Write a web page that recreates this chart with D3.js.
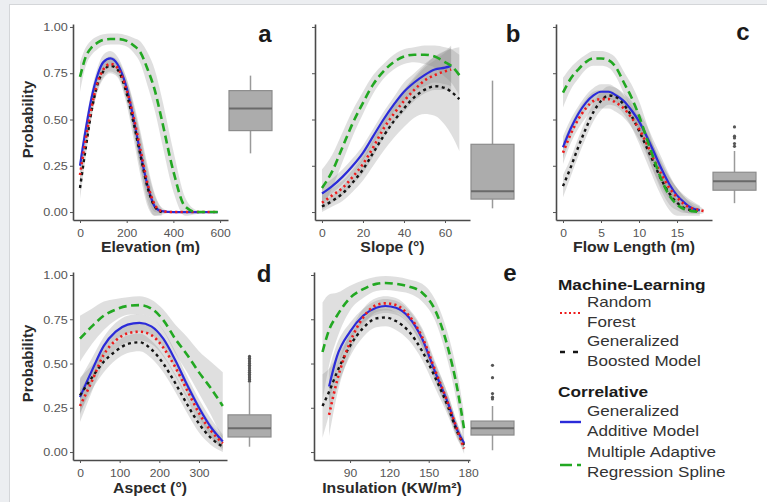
<!DOCTYPE html>
<html><head><meta charset="utf-8">
<script src="https://cdn.jsdelivr.net/npm/d3@7"></script>
<style>
html,body{margin:0;padding:0;background:#eceef1;}
svg{display:block;}
</style></head>
<body>
<svg id="chart" width="767" height="502"></svg>
<script>
// ---------------- DATA ----------------
const yTicks = [0, 0.25, 0.5, 0.75, 1];

// Panel a: Elevation (m)
const xTicksA = [0, 200, 400, 600];
const xsA     = [0, 25, 50, 75, 100, 130, 160, 200, 230, 260, 290, 320, 350, 400, 450, 500, 550, 590];
const marsA   = [0.73, 0.84, 0.89, 0.915, 0.93, 0.935, 0.935, 0.925, 0.90, 0.86, 0.77, 0.66, 0.50, 0.22, 0.03, 0, 0, 0];
const marsA_ci= [0.08, 0.05, 0.04, 0.035, 0.03, 0.03, 0.03, 0.03, 0.04, 0.06, 0.09, 0.11, 0.12, 0.11, 0.05, 0.01, 0, 0];
const gamA    = [0.25, 0.45, 0.62, 0.74, 0.81, 0.83, 0.80, 0.67, 0.50, 0.31, 0.14, 0.03, 0.005, 0, 0, 0, 0, 0];
const gamA_ci = [0.05, 0.04, 0.04, 0.04, 0.04, 0.04, 0.04, 0.05, 0.07, 0.08, 0.06, 0.03, 0.01, 0, 0, 0, 0, 0];
const rfA     = [0.20, 0.40, 0.57, 0.70, 0.77, 0.80, 0.78, 0.66, 0.51, 0.33, 0.15, 0.04, 0.005, 0, 0, 0, 0, 0];
const rfA_ci  = [0.06, 0.05, 0.04, 0.04, 0.04, 0.04, 0.04, 0.06, 0.08, 0.10, 0.10, 0.06, 0.02, 0, 0, 0, 0, 0];
const gbmA    = [0.13, 0.35, 0.55, 0.69, 0.76, 0.79, 0.77, 0.64, 0.48, 0.30, 0.13, 0.03, 0, null, null, null, null, null];
const gbmA_ci = [0.06, 0.05, 0.04, 0.04, 0.04, 0.04, 0.04, 0.06, 0.09, 0.11, 0.10, 0.06, 0.02, null, null, null, null, null];
const boxA = [0.317, 0.44, 0.56, 0.656, 0.737];
const outA = [];

// Panel b: Slope (°)
const xTicksB = [0, 20, 40, 60];
const xsB     = [0, 5, 10, 15, 20, 25, 30, 35, 40, 45, 50, 55, 60, 63, 67];
const marsB   = [0.13, 0.22, 0.35, 0.48, 0.59, 0.69, 0.76, 0.81, 0.84, 0.85, 0.85, 0.84, 0.81, 0.79, 0.74];
const marsB_ci= [0.10, 0.09, 0.08, 0.07, 0.06, 0.05, 0.04, 0.04, 0.04, 0.04, 0.05, 0.06, 0.08, 0.09, 0.11];
const gamB    = [0.10, 0.14, 0.19, 0.25, 0.32, 0.41, 0.50, 0.58, 0.65, 0.70, 0.74, 0.77, 0.78, 0.79, null];
const gamB_ci = [0.04, 0.04, 0.04, 0.04, 0.04, 0.04, 0.04, 0.04, 0.05, 0.05, 0.06, 0.07, 0.09, 0.11, null];
const rfB     = [0.05, 0.09, 0.13, 0.19, 0.26, 0.35, 0.45, 0.53, 0.60, 0.66, 0.71, 0.74, 0.76, 0.77, null];
const rfB_ci  = [0.04, 0.04, 0.04, 0.04, 0.05, 0.05, 0.05, 0.05, 0.06, 0.06, 0.07, 0.08, 0.10, 0.12, null];
const gbmB    = [0.03, 0.06, 0.10, 0.16, 0.23, 0.32, 0.41, 0.49, 0.56, 0.62, 0.66, 0.68, 0.67, 0.65, 0.61];
const gbmB_ci = [0.03, 0.03, 0.04, 0.05, 0.06, 0.07, 0.08, 0.09, 0.10, 0.11, 0.13, 0.16, 0.20, 0.23, 0.28];
const boxB = [0.02, 0.07, 0.113, 0.366, 0.71];
const outB = [];

// Panel c: Flow Length (m)
const xTicksC = [0, 5, 10, 15];
const xsC     = [0, 1, 2, 3, 4, 5, 6, 7, 8, 9, 10, 11, 12, 13, 14, 15, 16, 17, 18, 18.5];
const marsC   = [0.645, 0.72, 0.77, 0.81, 0.83, 0.83, 0.82, 0.78, 0.70, 0.62, 0.52, 0.40, 0.28, 0.17, 0.09, 0.04, 0.015, 0.005, 0, null];
const marsC_ci= [0.08, 0.06, 0.05, 0.04, 0.04, 0.04, 0.04, 0.05, 0.06, 0.07, 0.08, 0.08, 0.07, 0.06, 0.05, 0.03, 0.02, 0.01, 0, null];
const gamC    = [0.35, 0.45, 0.53, 0.59, 0.63, 0.65, 0.65, 0.63, 0.60, 0.55, 0.49, 0.41, 0.32, 0.23, 0.15, 0.09, 0.05, 0.02, 0.01, null];
const gamC_ci = [0.06, 0.05, 0.04, 0.04, 0.04, 0.04, 0.04, 0.04, 0.04, 0.05, 0.05, 0.06, 0.06, 0.06, 0.05, 0.04, 0.03, 0.02, 0.01, null];
const rfC     = [0.32, 0.42, 0.50, 0.56, 0.60, 0.61, 0.61, 0.59, 0.56, 0.51, 0.45, 0.37, 0.28, 0.20, 0.13, 0.08, 0.04, 0.02, 0.01, 0.005];
const rfC_ci  = [0.06, 0.05, 0.05, 0.05, 0.05, 0.05, 0.05, 0.05, 0.05, 0.05, 0.06, 0.06, 0.07, 0.07, 0.06, 0.05, 0.04, 0.03, 0.02, 0.01];
const gbmC    = [0.14, 0.24, 0.35, 0.45, 0.54, 0.60, 0.63, 0.62, 0.58, 0.52, 0.44, 0.35, 0.26, 0.17, 0.10, 0.05, 0.02, 0.01, 0.005, null];
const gbmC_ci = [0.06, 0.05, 0.05, 0.05, 0.05, 0.05, 0.05, 0.05, 0.05, 0.06, 0.07, 0.08, 0.09, 0.09, 0.09, 0.08, 0.07, 0.05, 0.03, null];
const boxC = [0.048, 0.118, 0.167, 0.215, 0.33];
const outC = [0.355, 0.37, 0.40, 0.41, 0.46];

// Panel d: Aspect (°)
const xTicksD = [0, 100, 200, 300];
const xsD     = [0, 30, 60, 90, 120, 150, 180, 210, 240, 270, 300, 330, 360];
const marsD   = [0.64, 0.71, 0.77, 0.805, 0.825, 0.83, 0.81, 0.745, 0.64, 0.55, 0.45, 0.36, 0.26];
const marsD_ci= [0.13, 0.10, 0.08, 0.06, 0.05, 0.05, 0.05, 0.06, 0.08, 0.10, 0.12, 0.15, 0.19];
const gamD    = [0.31, 0.46, 0.60, 0.68, 0.72, 0.73, 0.71, 0.64, 0.52, 0.38, 0.25, 0.14, 0.06];
const gamD_ci = [0.10, 0.07, 0.05, 0.05, 0.05, 0.05, 0.05, 0.05, 0.05, 0.05, 0.05, 0.05, 0.04];
const rfD     = [0.26, 0.40, 0.55, 0.63, 0.67, 0.68, 0.66, 0.59, 0.48, 0.35, 0.22, 0.12, 0.05];
const rfD_ci  = [0.09, 0.06, 0.05, 0.05, 0.05, 0.05, 0.05, 0.05, 0.05, 0.05, 0.05, 0.04, 0.04];
const gbmD    = [0.32, 0.42, 0.51, 0.57, 0.61, 0.62, 0.58, 0.50, 0.39, 0.27, 0.16, 0.08, 0.03];
const gbmD_ci = [0.10, 0.07, 0.06, 0.05, 0.05, 0.05, 0.05, 0.05, 0.05, 0.05, 0.05, 0.04, 0.03];
const boxD = [0.03, 0.085, 0.135, 0.21, 0.39];
const outD = [0.40, 0.41, 0.42, 0.43, 0.44, 0.45, 0.46, 0.47, 0.48, 0.49, 0.50, 0.51, 0.52, 0.53, 0.54];

// Panel e: Insulation (KW/m²)
const xTicksE = [90, 120, 150, 180];
const xsE     = [69, 74, 80, 90, 100, 110, 117, 125, 135, 145, 155, 165, 172, 177];
const marsE   = [0.565, 0.69, 0.77, 0.87, 0.92, 0.95, 0.955, 0.95, 0.935, 0.90, 0.80, 0.58, 0.35, 0.13];
const marsE_ci= [0.28, 0.20, 0.13, 0.07, 0.05, 0.04, 0.04, 0.04, 0.04, 0.05, 0.06, 0.08, 0.09, 0.09];
const gamE    = [null, 0.37, 0.54, 0.68, 0.77, 0.815, 0.825, 0.815, 0.76, 0.64, 0.45, 0.27, 0.12, 0.05];
const gamE_ci = [null, 0.10, 0.07, 0.05, 0.04, 0.04, 0.04, 0.04, 0.04, 0.05, 0.05, 0.05, 0.04, 0.03];
const rfE     = [null, 0.21, 0.40, 0.62, 0.76, 0.83, 0.84, 0.83, 0.77, 0.65, 0.46, 0.27, 0.12, 0.02];
const rfE_ci  = [null, 0.12, 0.08, 0.06, 0.05, 0.04, 0.04, 0.04, 0.04, 0.05, 0.05, 0.05, 0.04, 0.03];
const gbmE    = [0.26, 0.34, 0.45, 0.60, 0.70, 0.755, 0.76, 0.74, 0.68, 0.57, 0.42, 0.25, 0.11, 0.04];
const gbmE_ci = [0.18, 0.13, 0.09, 0.06, 0.05, 0.05, 0.05, 0.05, 0.05, 0.05, 0.06, 0.05, 0.04, 0.03];
const boxE = [0.01, 0.096, 0.135, 0.175, 0.26];
const outE = [0.30, 0.31, 0.33, 0.42, 0.49];

// Legend
const legendGroups = ["Machine-Learning", "Correlative"];
const legendItems = [
  {key: "rf",   lines: ["Random", "Forest"]},
  {key: "gbm",  lines: ["Generalized", "Boosted Model"]},
  {key: "gam",  lines: ["Generalized", "Additive Model"]},
  {key: "mars", lines: ["Multiple Adaptive", "Regression Spline"]}
];

// ---------------- STYLE ----------------
const FONT = '"Liberation Sans", Arial, Helvetica, sans-serif';
const styles = {
  gam:  {stroke: "#2b2bd9", width: 2.2, dash: null, cap: "butt"},
  rf:   {stroke: "#ee1c1c", width: 2.6, dash: "2.2 3.2", cap: "butt"},
  gbm:  {stroke: "#151515", width: 2.4, dash: "3 3.5", cap: "butt"},
  mars: {stroke: "#22a822", width: 2.6, dash: "8 4.5", cap: "butt"}
};

const svg = d3.select("#chart");
// white page area with light border
svg.append("rect").attr("x", 9.5).attr("y", 4.5).attr("width", 760).attr("height", 500)
  .attr("fill", "#fff").attr("stroke", "#d4d6d9").attr("stroke-width", 1);

function txt(g, x, y, s, o) {
  o = o || {};
  const t = g.append("text")
    .attr("transform", `translate(${x},${y})` + (o.rotate ? ` rotate(${o.rotate})` : "") + ` scale(${o.sx || 1},1)`)
    .attr("font-family", FONT)
    .attr("font-size", o.size || 12)
    .attr("font-weight", o.weight || "normal")
    .attr("text-anchor", o.anchor || "start")
    .attr("fill", o.fill || "#222")
    .text(s);
  return t;
}

const panels = [
  {xs: xsA, s: {mars: [marsA, marsA_ci], gam: [gamA, gamA_ci], rf: [rfA, rfA_ci], gbm: [gbmA, gbmA_ci]},
   xdom: [-30, 634], xr: [73, 228], ydom: [-0.043, 1.016], yr: [220, 24], xt: xTicksA, ylab: true,
   title: "Elevation (m)", titleY: 252, letter: "a", lp: [265, 42], box: boxA, out: outA},
  {xs: xsB, s: {mars: [marsB, marsB_ci], gam: [gamB, gamB_ci], rf: [rfB, rfB_ci], gbm: [gbmB, gbmB_ci]},
   xdom: [-3.4, 72.2], xr: [315, 470], ydom: [-0.043, 1.016], yr: [220, 24], xt: xTicksB, ylab: false,
   title: "Slope (°)", titleY: 252, letter: "b", lp: [513, 42], box: boxB, out: outB},
  {xs: xsC, s: {mars: [marsC, marsC_ci], gam: [gamC, gamC_ci], rf: [rfC, rfC_ci], gbm: [gbmC, gbmC_ci]},
   xdom: [-0.92, 19.6], xr: [556, 712], ydom: [-0.043, 1.016], yr: [220, 24], xt: xTicksC, ylab: false,
   title: "Flow Length (m)", titleY: 252, letter: "c", lp: [743, 40], box: boxC, out: outC},
  {xs: xsD, s: {mars: [marsD, marsD_ci], gam: [gamD, gamD_ci], rf: [rfD, rfD_ci], gbm: [gbmD, gbmD_ci]},
   xdom: [-17.6, 370.6], xr: [73, 227], ydom: [-0.045, 1.017], yr: [460, 272], xt: xTicksD, ylab: true,
   title: "Aspect (°)", titleY: 493, letter: "d", lp: [264, 282], box: boxD, out: outD},
  {xs: xsE, s: {mars: [marsE, marsE_ci], gam: [gamE, gamE_ci], rf: [rfE, rfE_ci], gbm: [gbmE, gbmE_ci]},
   xdom: [62.5, 181.5], xr: [314, 470], ydom: [-0.045, 1.017], yr: [460, 272], xt: xTicksE, ylab: false,
   title: "Insulation (KW/m²)", titleY: 493, letter: "e", lp: [510, 281], box: boxE, out: outE}
];

const order = ["gam", "gbm", "rf", "mars"];

panels.forEach(p => {
  const g = svg.append("g");
  const x = d3.scaleLinear().domain(p.xdom).range(p.xr);
  const y = d3.scaleLinear().domain(p.ydom).range(p.yr);

  // ribbons
  ["mars", "gam", "rf", "gbm"].forEach(k => {
    const [vals, ci] = p.s[k];
    const pts = p.xs.map((xv, i) => ({x: xv, v: vals[i], c: ci[i]}));
    const area = d3.area()
      .defined(d => d.v != null)
      .x(d => x(d.x))
      .y0(d => y(Math.max(-0.02, d.v - d.c)))
      .y1(d => y(Math.min(1.0, d.v + d.c)))
      .curve(d3.curveMonotoneX);
    g.append("path").attr("d", area(pts)).attr("fill", "#8a8a8a").attr("fill-opacity", 0.27);
  });

  // lines
  order.forEach(k => {
    const [vals] = p.s[k];
    const st = styles[k];
    const pts = p.xs.map((xv, i) => ({x: xv, v: vals[i]}));
    const line = d3.line().defined(d => d.v != null).x(d => x(d.x)).y(d => y(d.v)).curve(d3.curveMonotoneX);
    g.append("path").attr("d", line(pts)).attr("fill", "none")
      .attr("stroke", st.stroke).attr("stroke-width", st.width)
      .attr("stroke-dasharray", st.dash).attr("stroke-linecap", st.cap);
  });

  // axes
  const xAxis = d3.axisBottom(x).tickValues(p.xt).tickSize(3).tickSizeOuter(0).tickFormat(d3.format("d"));
  const gx = g.append("g").attr("transform", `translate(0,${p.yr[0]})`).call(xAxis);
  const yAxis = d3.axisLeft(y).tickValues(yTicks).tickSize(3).tickSizeOuter(0).tickFormat(d3.format(".2f"));
  const gy = g.append("g").attr("transform", `translate(${p.xr[0]},0)`).call(yAxis);
  [gx, gy].forEach(a => {
    a.select(".domain").attr("stroke", "#4a4a4a").attr("stroke-width", 1.6);
    a.selectAll(".tick line").attr("stroke", "#555").attr("stroke-width", 1);
    a.selectAll("text").attr("font-family", FONT).attr("font-size", 11).attr("fill", "#555");
  });
  gx.selectAll("text").attr("y", 9).attr("dy", "0.71em").attr("transform", "scale(1.1,1)");
  if (p.ylab) {
    gy.selectAll("text").attr("x", -4.5).attr("dy", "0.34em").attr("transform", "scale(1.15,1)");
  } else {
    gy.selectAll("text").remove();
  }

  // titles
  const cx = (p.xr[0] + p.xr[1]) / 2;
  txt(g, cx, p.titleY, p.title, {size: 14, weight: "bold", anchor: "middle", sx: 1.13, fill: "#2a2a2a"});
  if (p.ylab) {
    const cy = (y(0) + y(1)) / 2;
    txt(g, 33, cy, "Probability", {size: 15, weight: "bold", anchor: "middle", rotate: -90, fill: "#2a2a2a"});
  }
  txt(g, p.lp[0], p.lp[1], p.letter, {size: 24, weight: "bold", anchor: "middle", fill: "#1a1a1a"});

  // boxplot
  const bx0 = p.xr[1] + 1, bw = 43, bcx = bx0 + bw / 2;
  const [lo, q1, med, q3, hi] = p.box;
  g.append("line").attr("x1", bcx).attr("x2", bcx).attr("y1", y(hi)).attr("y2", y(q3)).attr("stroke", "#9a9a9a").attr("stroke-width", 1.5);
  g.append("line").attr("x1", bcx).attr("x2", bcx).attr("y1", y(q1)).attr("y2", y(lo)).attr("stroke", "#9a9a9a").attr("stroke-width", 1.5);
  g.append("rect").attr("x", bx0).attr("width", bw).attr("y", y(q3)).attr("height", y(q1) - y(q3))
    .attr("fill", "#acacac").attr("stroke", "#8c8c8c").attr("stroke-width", 1.2);
  g.append("line").attr("x1", bx0).attr("x2", bx0 + bw).attr("y1", y(med)).attr("y2", y(med)).attr("stroke", "#6a6a6a").attr("stroke-width", 2);
  p.out.forEach(o => {
    g.append("circle").attr("cx", bcx).attr("cy", y(o)).attr("r", 1.6).attr("fill", "#555");
  });
});

// ---------------- LEGEND ----------------
const lg = svg.append("g");
const headerY = [290, 397];
txt(lg, 558, headerY[0], legendGroups[0], {size: 15, weight: "bold", sx: 1.15, fill: "#1a1a1a"});
txt(lg, 558, headerY[1], legendGroups[1], {size: 15, weight: "bold", sx: 1.15, fill: "#1a1a1a"});
const itemBase = [307, 346, 416, 457];
const keyY = [313, 352, 422, 465];
legendItems.forEach((it, i) => {
  it.lines.forEach((ln, j) => {
    txt(lg, 587, itemBase[i] + j * 19.5, ln, {size: 14, sx: 1.22, fill: "#333"});
  });
  const st = styles[it.key];
  lg.append("line").attr("x1", 560).attr("x2", 581).attr("y1", keyY[i]).attr("y2", keyY[i])
    .attr("stroke", st.stroke).attr("stroke-width", it.key === "rf" ? 2 : 2.4)
    .attr("stroke-dasharray", it.key === "rf" ? "2 2.5" : it.key === "gbm" ? "5 8" : it.key === "mars" ? "12 5" : null);
});
</script>
</body></html>
